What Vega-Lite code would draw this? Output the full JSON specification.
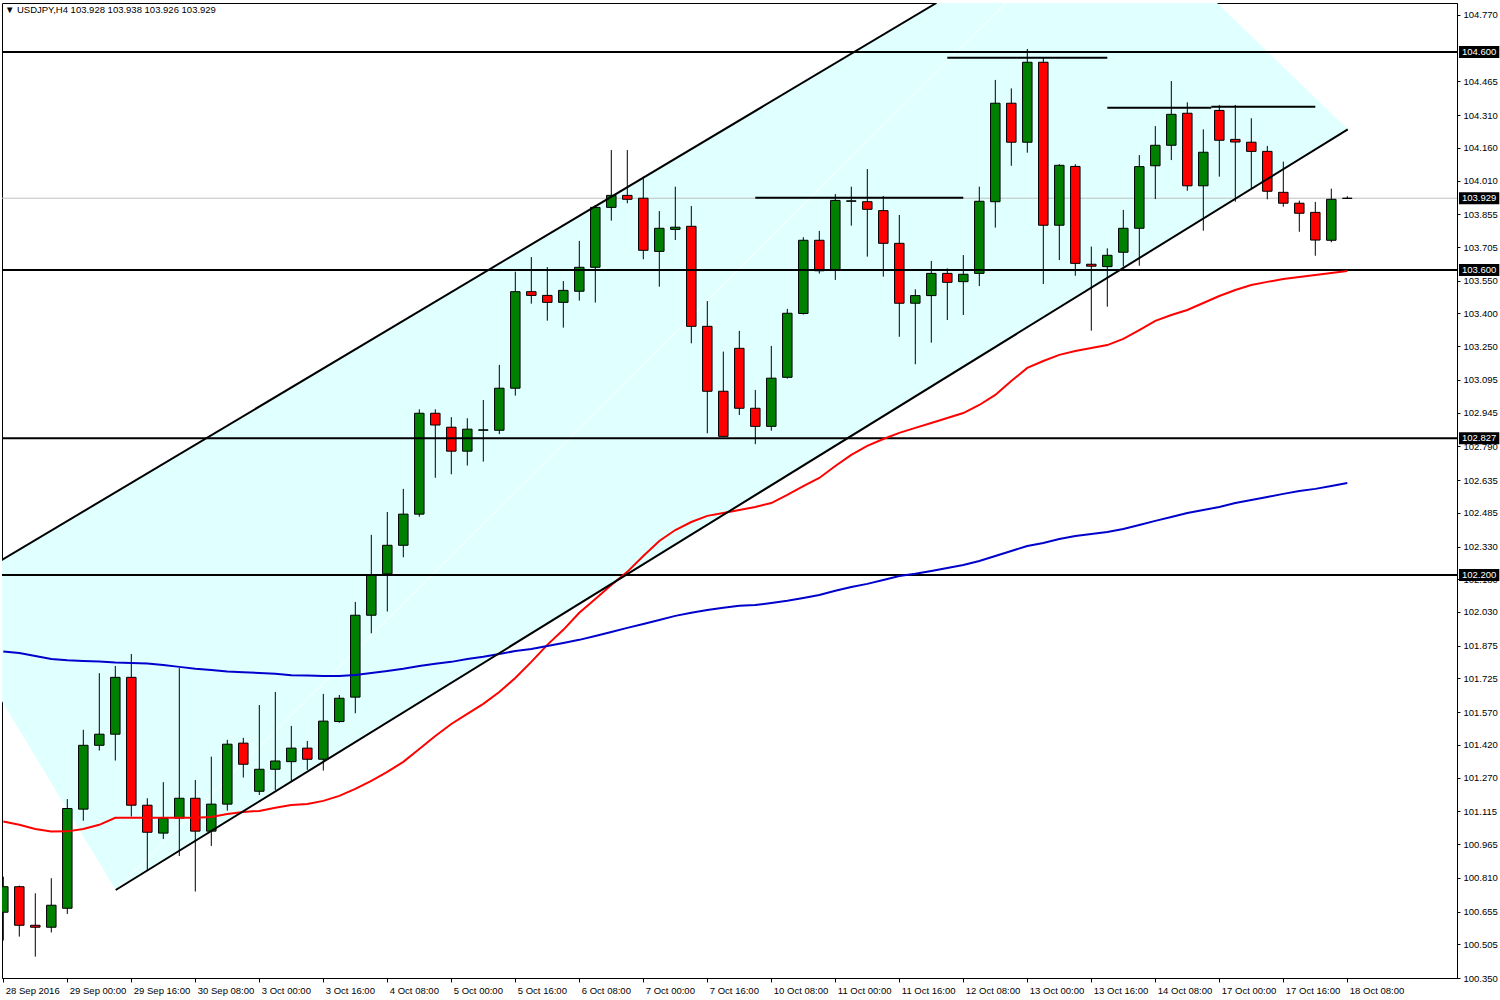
{
  "$schema": "https://vega.github.io/schema/vega-lite/v6.json",
  "width": 1455,
  "height": 975,
  "autosize": {"type": "none"},
  "padding": {"left": 2, "top": 3, "right": 43, "bottom": 22},
  "background": "white",
  "config": {
    "view": {"stroke": "black", "strokeWidth": 1},
    "scale": {"continuousPadding": 0},
    "axis": {"labelFont": "Liberation Sans", "labelFontSize": 9.5, "labelColor": "black", "domainColor": "black", "tickColor": "black", "grid": false, "title": null, "labelOverlap": false, "labelFlush": false, "labelBound": false}
  },
  "datasets": {
    "candles": [
      {"i":0,"o":100.652,"h":100.815,"l":100.522,"c":100.769,"ma50":101.068,"ma200":101.849},
      {"i":1,"o":100.769,"h":100.774,"l":100.540,"c":100.592,"ma50":101.053,"ma200":101.842},
      {"i":2,"o":100.592,"h":100.739,"l":100.448,"c":100.583,"ma50":101.034,"ma200":101.828},
      {"i":3,"o":100.583,"h":100.808,"l":100.559,"c":100.684,"ma50":101.022,"ma200":101.814},
      {"i":4,"o":100.670,"h":101.171,"l":100.644,"c":101.128,"ma50":101.023,"ma200":101.808},
      {"i":5,"o":101.125,"h":101.489,"l":101.072,"c":101.418,"ma50":101.034,"ma200":101.805},
      {"i":6,"o":101.418,"h":101.749,"l":101.394,"c":101.469,"ma50":101.053,"ma200":101.803},
      {"i":7,"o":101.469,"h":101.782,"l":101.348,"c":101.730,"ma50":101.085,"ma200":101.798},
      {"i":8,"o":101.730,"h":101.837,"l":101.091,"c":101.143,"ma50":101.085,"ma200":101.796},
      {"i":9,"o":101.143,"h":101.175,"l":100.846,"c":101.019,"ma50":101.085,"ma200":101.794},
      {"i":10,"o":101.015,"h":101.249,"l":100.988,"c":101.082,"ma50":101.085,"ma200":101.787},
      {"i":11,"o":101.084,"h":101.772,"l":100.910,"c":101.175,"ma50":101.085,"ma200":101.778},
      {"i":12,"o":101.175,"h":101.259,"l":100.747,"c":101.024,"ma50":101.085,"ma200":101.769},
      {"i":13,"o":101.024,"h":101.366,"l":100.956,"c":101.148,"ma50":101.089,"ma200":101.764},
      {"i":14,"o":101.148,"h":101.443,"l":101.118,"c":101.423,"ma50":101.103,"ma200":101.757},
      {"i":15,"o":101.428,"h":101.452,"l":101.270,"c":101.331,"ma50":101.112,"ma200":101.753},
      {"i":16,"o":101.207,"h":101.603,"l":101.190,"c":101.308,"ma50":101.117,"ma200":101.750},
      {"i":17,"o":101.308,"h":101.663,"l":101.213,"c":101.346,"ma50":101.131,"ma200":101.746},
      {"i":18,"o":101.343,"h":101.507,"l":101.251,"c":101.405,"ma50":101.144,"ma200":101.739},
      {"i":19,"o":101.405,"h":101.438,"l":101.305,"c":101.354,"ma50":101.149,"ma200":101.738},
      {"i":20,"o":101.354,"h":101.654,"l":101.302,"c":101.529,"ma50":101.163,"ma200":101.736},
      {"i":21,"o":101.527,"h":101.649,"l":101.522,"c":101.634,"ma50":101.186,"ma200":101.736},
      {"i":22,"o":101.639,"h":102.076,"l":101.565,"c":102.015,"ma50":101.218,"ma200":101.741},
      {"i":23,"o":102.015,"h":102.384,"l":101.932,"c":102.200,"ma50":101.255,"ma200":101.750},
      {"i":24,"o":102.205,"h":102.489,"l":102.032,"c":102.336,"ma50":101.296,"ma200":101.759},
      {"i":25,"o":102.336,"h":102.595,"l":102.281,"c":102.479,"ma50":101.342,"ma200":101.769},
      {"i":26,"o":102.479,"h":102.960,"l":102.467,"c":102.942,"ma50":101.401,"ma200":101.782},
      {"i":27,"o":102.942,"h":102.960,"l":102.646,"c":102.888,"ma50":101.461,"ma200":101.792},
      {"i":28,"o":102.878,"h":102.924,"l":102.662,"c":102.768,"ma50":101.516,"ma200":101.801},
      {"i":29,"o":102.768,"h":102.919,"l":102.702,"c":102.869,"ma50":101.562,"ma200":101.814},
      {"i":30,"o":102.864,"h":103.003,"l":102.720,"c":102.866,"ma50":101.608,"ma200":101.824},
      {"i":31,"o":102.864,"h":103.164,"l":102.846,"c":103.057,"ma50":101.663,"ma200":101.837},
      {"i":32,"o":103.057,"h":103.592,"l":103.023,"c":103.500,"ma50":101.727,"ma200":101.851},
      {"i":33,"o":103.500,"h":103.659,"l":103.445,"c":103.483,"ma50":101.801,"ma200":101.860},
      {"i":34,"o":103.483,"h":103.613,"l":103.367,"c":103.451,"ma50":101.879,"ma200":101.874},
      {"i":35,"o":103.451,"h":103.549,"l":103.335,"c":103.506,"ma50":101.948,"ma200":101.888},
      {"i":36,"o":103.502,"h":103.733,"l":103.459,"c":103.612,"ma50":102.026,"ma200":101.902},
      {"i":37,"o":103.612,"h":103.898,"l":103.450,"c":103.887,"ma50":102.090,"ma200":101.920},
      {"i":38,"o":103.887,"h":104.150,"l":103.826,"c":103.942,"ma50":102.154,"ma200":101.938},
      {"i":39,"o":103.942,"h":104.150,"l":103.906,"c":103.924,"ma50":102.214,"ma200":101.957},
      {"i":40,"o":103.929,"h":104.028,"l":103.649,"c":103.690,"ma50":102.287,"ma200":101.975},
      {"i":41,"o":103.685,"h":103.870,"l":103.523,"c":103.791,"ma50":102.356,"ma200":101.993},
      {"i":42,"o":103.786,"h":103.982,"l":103.737,"c":103.796,"ma50":102.406,"ma200":102.012},
      {"i":43,"o":103.800,"h":103.893,"l":103.263,"c":103.341,"ma50":102.443,"ma200":102.026},
      {"i":44,"o":103.341,"h":103.457,"l":102.850,"c":103.043,"ma50":102.471,"ma200":102.039},
      {"i":45,"o":103.043,"h":103.225,"l":102.835,"c":102.836,"ma50":102.484,"ma200":102.049},
      {"i":46,"o":103.240,"h":103.320,"l":102.934,"c":102.965,"ma50":102.498,"ma200":102.058},
      {"i":47,"o":102.965,"h":103.049,"l":102.800,"c":102.882,"ma50":102.512,"ma200":102.062},
      {"i":48,"o":102.882,"h":103.251,"l":102.862,"c":103.103,"ma50":102.530,"ma200":102.071},
      {"i":49,"o":103.107,"h":103.421,"l":103.101,"c":103.401,"ma50":102.567,"ma200":102.081},
      {"i":50,"o":103.400,"h":103.750,"l":103.395,"c":103.736,"ma50":102.608,"ma200":102.094},
      {"i":51,"o":103.736,"h":103.779,"l":103.583,"c":103.596,"ma50":102.645,"ma200":102.108},
      {"i":52,"o":103.598,"h":103.948,"l":103.554,"c":103.919,"ma50":102.700,"ma200":102.127},
      {"i":53,"o":103.915,"h":103.982,"l":103.803,"c":103.917,"ma50":102.751,"ma200":102.145},
      {"i":54,"o":103.913,"h":104.063,"l":103.661,"c":103.878,"ma50":102.792,"ma200":102.159},
      {"i":55,"o":103.872,"h":103.939,"l":103.569,"c":103.722,"ma50":102.824,"ma200":102.177},
      {"i":56,"o":103.722,"h":103.852,"l":103.293,"c":103.447,"ma50":102.852,"ma200":102.195},
      {"i":57,"o":103.447,"h":103.511,"l":103.167,"c":103.482,"ma50":102.875,"ma200":102.205},
      {"i":58,"o":103.482,"h":103.641,"l":103.266,"c":103.584,"ma50":102.897,"ma200":102.218},
      {"i":59,"o":103.584,"h":103.607,"l":103.370,"c":103.543,"ma50":102.920,"ma200":102.232},
      {"i":60,"o":103.546,"h":103.668,"l":103.393,"c":103.580,"ma50":102.943,"ma200":102.246},
      {"i":61,"o":103.584,"h":103.982,"l":103.526,"c":103.915,"ma50":102.980,"ma200":102.264},
      {"i":62,"o":103.913,"h":104.472,"l":103.794,"c":104.365,"ma50":103.026,"ma200":102.287},
      {"i":63,"o":104.365,"h":104.433,"l":104.078,"c":104.186,"ma50":103.090,"ma200":102.310},
      {"i":64,"o":104.186,"h":104.614,"l":104.138,"c":104.553,"ma50":103.150,"ma200":102.333},
      {"i":65,"o":104.553,"h":104.575,"l":103.535,"c":103.805,"ma50":103.182,"ma200":102.347},
      {"i":66,"o":103.805,"h":104.085,"l":103.645,"c":104.080,"ma50":103.210,"ma200":102.365},
      {"i":67,"o":104.075,"h":104.085,"l":103.573,"c":103.630,"ma50":103.228,"ma200":102.379},
      {"i":68,"o":103.626,"h":103.707,"l":103.321,"c":103.617,"ma50":103.242,"ma200":102.388},
      {"i":69,"o":103.615,"h":103.699,"l":103.431,"c":103.667,"ma50":103.255,"ma200":102.397},
      {"i":70,"o":103.681,"h":103.875,"l":103.615,"c":103.791,"ma50":103.283,"ma200":102.411},
      {"i":71,"o":103.791,"h":104.127,"l":103.619,"c":104.074,"ma50":103.324,"ma200":102.429},
      {"i":72,"o":104.078,"h":104.260,"l":103.925,"c":104.172,"ma50":103.366,"ma200":102.448},
      {"i":73,"o":104.172,"h":104.467,"l":104.104,"c":104.314,"ma50":103.393,"ma200":102.466},
      {"i":74,"o":104.319,"h":104.369,"l":103.963,"c":103.986,"ma50":103.416,"ma200":102.484},
      {"i":75,"o":103.986,"h":104.245,"l":103.780,"c":104.140,"ma50":103.448,"ma200":102.498},
      {"i":76,"o":104.332,"h":104.357,"l":104.028,"c":104.195,"ma50":103.480,"ma200":102.512},
      {"i":77,"o":104.199,"h":104.357,"l":103.913,"c":104.187,"ma50":103.508,"ma200":102.530},
      {"i":78,"o":104.186,"h":104.296,"l":103.975,"c":104.144,"ma50":103.531,"ma200":102.544},
      {"i":79,"o":104.144,"h":104.169,"l":103.924,"c":103.961,"ma50":103.545,"ma200":102.558},
      {"i":80,"o":103.956,"h":104.097,"l":103.890,"c":103.906,"ma50":103.558,"ma200":102.572},
      {"i":81,"o":103.906,"h":103.918,"l":103.775,"c":103.860,"ma50":103.567,"ma200":102.585},
      {"i":82,"o":103.864,"h":103.912,"l":103.665,"c":103.737,"ma50":103.577,"ma200":102.595},
      {"i":83,"o":103.736,"h":103.973,"l":103.727,"c":103.924,"ma50":103.586,"ma200":102.608},
      {"i":84,"o":103.928,"h":103.938,"l":103.926,"c":103.929,"ma50":103.595,"ma200":102.622}
    ],
    "fill": [
      {"i":-0.831,"t":102.236,"b":101.712},
      {"i":7.025,"t":102.580,"b":100.754},
      {"i":58.32,"t":104.825,"b":103.079},
      {"i":75.86,"t":104.825,"b":103.874},
      {"i":84.03,"t":104.245,"b":104.245}
    ],
    "channel": [
      {"x1":-0.831,"y1":102.236,"x2":58.32,"y2":104.825},
      {"x1":7.025,"y1":100.754,"x2":84.03,"y2":104.245}
    ],
    "midline": [
      {"x1":7.025,"y1":100.754,"x2":62.67,"y2":104.825}
    ],
    "levels": [
      {"p":104.6,"t":"104.600"},
      {"p":103.6,"t":"103.600"},
      {"p":102.827,"t":"102.827"},
      {"p":102.2,"t":"102.200"}
    ],
    "current": [{"p":103.929,"t":"103.929"}],
    "segments": [
      {"x1":47.0,"x2":60.0,"p":103.931},
      {"x1":59.0,"x2":69.0,"p":104.574},
      {"x1":69.0,"x2":75.5,"p":104.344},
      {"x1":75.5,"x2":82.0,"p":104.349}
    ],
    "header": [{"t":"▼  USDJPY,H4  103.928 103.938 103.926 103.929"}]
  },
  "layer": [
    {
      "data": {"name": "fill"},
      "mark": {"type": "area", "color": "#e0ffff", "clip": true, "opacity": 1},
      "encoding": {
        "x": {"field": "i", "type": "quantitative", "scale": {"domain": [-0.08125, 90.85625], "nice": false, "zero": false, "padding": 0},
          "axis": {"orient": "bottom", "values": [0,4,8,12,16,20,24,28,32,36,40,44,48,52,56,60,64,68,72,76,80,84], "tickCount": 100,
            "labelExpr": "['28 Sep 2016','29 Sep 00:00','29 Sep 16:00','30 Sep 08:00','3 Oct 00:00','3 Oct 16:00','4 Oct 08:00','5 Oct 00:00','5 Oct 16:00','6 Oct 08:00','7 Oct 00:00','7 Oct 16:00','10 Oct 08:00','11 Oct 00:00','11 Oct 16:00','12 Oct 08:00','13 Oct 00:00','13 Oct 16:00','14 Oct 08:00','17 Oct 00:00','17 Oct 16:00','18 Oct 08:00'][round(datum.value/4)]",
            "labelAlign": "left", "labelBaseline": "top", "labelPadding": 3, "labelOffset": 2, "tickSize": 4, "labelOverlap": false, "labelFlush": false, "labelBound": false, "domain": true, "title": null}},
        "y": {"field": "t", "type": "quantitative", "scale": {"domain": [100.35, 104.825], "nice": false, "zero": false, "padding": 0},
          "axis": {"orient": "right", "values": [104.77,104.465,104.31,104.16,104.01,103.855,103.705,103.55,103.4,103.25,103.095,102.945,102.79,102.635,102.485,102.33,102.18,102.03,101.875,101.725,101.57,101.42,101.27,101.115,100.965,100.81,100.655,100.505,100.35], "tickCount": 100,
            "format": ".3f", "tickSize": 3, "labelPadding": 3, "labelAlign": "left", "labelBaseline": "middle", "labelOverlap": false, "labelFlush": false, "labelBound": false, "domain": true, "title": null}},
        "y2": {"field": "b"}
      }
    },
    {
      "data": {"name": "midline"},
      "mark": {"type": "rule", "color": "white", "strokeWidth": 1, "clip": true},
      "encoding": {
        "x": {"field": "x1", "type": "quantitative"},
        "y": {"field": "y1", "type": "quantitative"},
        "x2": {"field": "x2"},
        "y2": {"field": "y2"}
      }
    },
    {
      "data": {"name": "current"},
      "mark": {"type": "rule", "color": "#c0c0c0", "strokeWidth": 1},
      "encoding": {
        "y": {"field": "p", "type": "quantitative"}
      }
    },
    {
      "data": {"name": "candles"},
      "mark": {"type": "rule", "color": "black", "strokeWidth": 1, "clip": true},
      "encoding": {
        "x": {"field": "i", "type": "quantitative"},
        "y": {"field": "l", "type": "quantitative"},
        "y2": {"field": "h"}
      }
    },
    {
      "data": {"name": "candles"},
      "mark": {"type": "bar", "size": 9.5, "stroke": "black", "strokeWidth": 1, "clip": true},
      "encoding": {
        "x": {"field": "i", "type": "quantitative"},
        "y": {"field": "o", "type": "quantitative"},
        "y2": {"field": "c"},
        "color": {"condition": {"test": "datum.c >= datum.o", "value": "#008000"}, "value": "#ff0000"}
      }
    },
    {
      "data": {"name": "levels"},
      "mark": {"type": "rule", "color": "black", "strokeWidth": 2},
      "encoding": {
        "y": {"field": "p", "type": "quantitative"}
      }
    },
    {
      "data": {"name": "segments"},
      "mark": {"type": "rule", "color": "black", "strokeWidth": 2},
      "encoding": {
        "x": {"field": "x1", "type": "quantitative"},
        "x2": {"field": "x2"},
        "y": {"field": "p", "type": "quantitative"}
      }
    },
    {
      "data": {"name": "candles"},
      "mark": {"type": "line", "color": "#ff0000", "strokeWidth": 2, "clip": true},
      "encoding": {
        "x": {"field": "i", "type": "quantitative"},
        "y": {"field": "ma50", "type": "quantitative"}
      }
    },
    {
      "data": {"name": "candles"},
      "mark": {"type": "line", "color": "#0000cd", "strokeWidth": 2, "clip": true},
      "encoding": {
        "x": {"field": "i", "type": "quantitative"},
        "y": {"field": "ma200", "type": "quantitative"}
      }
    },
    {
      "data": {"name": "channel"},
      "mark": {"type": "rule", "color": "black", "strokeWidth": 2, "clip": true},
      "encoding": {
        "x": {"field": "x1", "type": "quantitative"},
        "y": {"field": "y1", "type": "quantitative"},
        "x2": {"field": "x2"},
        "y2": {"field": "y2"}
      }
    },
    {
      "data": {"name": "levels"},
      "mark": {"type": "bar", "color": "black", "size": 12, "clip": false},
      "encoding": {
        "x": {"datum": 90.98, "type": "quantitative"},
        "x2": {"datum": 93.5},
        "y": {"field": "p", "type": "quantitative"}
      }
    },
    {
      "data": {"name": "current"},
      "mark": {"type": "bar", "color": "black", "size": 12, "clip": false},
      "encoding": {
        "x": {"datum": 90.98, "type": "quantitative"},
        "x2": {"datum": 93.5},
        "y": {"field": "p", "type": "quantitative"}
      }
    },
    {
      "data": {"name": "levels"},
      "mark": {"type": "text", "color": "white", "align": "left", "baseline": "middle", "font": "Liberation Sans", "fontSize": 9.5, "clip": false},
      "encoding": {
        "x": {"datum": 91.17, "type": "quantitative"},
        "y": {"field": "p", "type": "quantitative"},
        "text": {"field": "t"}
      }
    },
    {
      "data": {"name": "current"},
      "mark": {"type": "text", "color": "white", "align": "left", "baseline": "middle", "font": "Liberation Sans", "fontSize": 9.5, "clip": false},
      "encoding": {
        "x": {"datum": 91.17, "type": "quantitative"},
        "y": {"field": "p", "type": "quantitative"},
        "text": {"field": "t"}
      }
    },
    {
      "data": {"name": "header"},
      "mark": {"type": "text", "color": "black", "align": "left", "baseline": "middle", "font": "Liberation Sans", "fontSize": 9.5},
      "encoding": {
        "x": {"datum": 0.1, "type": "quantitative"},
        "y": {"datum": 104.795, "type": "quantitative"},
        "text": {"field": "t"}
      }
    }
  ]
}
